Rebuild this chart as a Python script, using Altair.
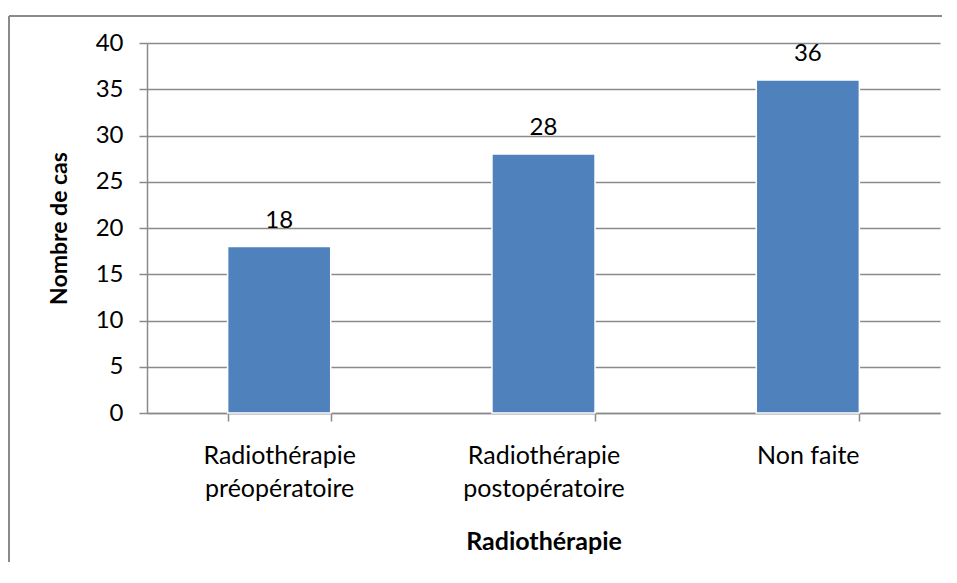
import altair as alt
import pandas as pd

categories = ["Radiothérapie\npréopératoire", "Radiothérapie\npostopératoire", "Non faite"]
values = [18, 28, 36]
y_ticks = [0, 5, 10, 15, 20, 25, 30, 35, 40]

df = pd.DataFrame({"cat": categories, "val": values})

FONT = "Lato"
GRAY = "#8a8a8a"

x_enc = alt.X(
    "cat:N",
    sort=categories,
    title="Radiothérapie",
    scale=alt.Scale(paddingInner=0.61, paddingOuter=0.305),
    axis=alt.Axis(
        labelExpr="split(datum.label, '\\n')",
        labelAngle=0,
        labelFont=FONT,
        labelFontSize=25,
        labelColor="#000000",
        labelLineHeight=33,
        labelPadding=22,
        tickBand="extent",
        tickSize=8,
        tickColor=GRAY,
        tickWidth=1.5,
        domainColor=GRAY,
        domainWidth=1.5,
        grid=False,
        titleFont=FONT,
        titleFontSize=25,
        titleFontWeight="bold",
        titleColor="#000000",
        titlePadding=28,
    ),
)

y_enc = alt.Y(
    "val:Q",
    title="Nombre de cas",
    scale=alt.Scale(domain=[0, 40], nice=False),
    axis=alt.Axis(
        values=y_ticks,
        labelFont=FONT,
        labelFontSize=24,
        labelColor="#000000",
        labelPadding=16,
        tickSize=8,
        tickColor=GRAY,
        tickWidth=1.5,
        domainColor=GRAY,
        domainWidth=1.5,
        grid=True,
        gridColor=GRAY,
        gridWidth=1.5,
        titleFont=FONT,
        titleFontSize=23,
        titleFontWeight="bold",
        titleColor="#000000",
        titlePadding=24,
    ),
)

bars = alt.Chart(df).mark_bar(
    color="#4F81BD", stroke="#ffffff", strokeWidth=1.5
).encode(x=x_enc, y=y_enc)

labels = alt.Chart(df).mark_text(
    font=FONT, fontSize=24, color="#000000", baseline="alphabetic", dy=-19
).encode(x=alt.X("cat:N", sort=categories), y="val:Q", text="val:Q")

one = alt.Data(values=[{"a": 1}])
frame_left = alt.Chart(one).mark_rule(color=GRAY, strokeWidth=2).encode(
    x=alt.value(-138), y=alt.value(-27), y2=alt.value(519)
)
frame_top = alt.Chart(one).mark_rule(color=GRAY, strokeWidth=2).encode(
    x=alt.value(-138), x2=alt.value(795), y=alt.value(-27)
)

chart = alt.layer(frame_left, frame_top, bars, labels).properties(
    width=793,
    height=370,
    autosize=alt.AutoSizeParams(type="none"),
    padding={"left": 139, "top": 35, "right": 9, "bottom": 150},
).configure_view(stroke=None, fill=None)

chart.save("out.html", embed_options={"renderer": "svg", "actions": False})
